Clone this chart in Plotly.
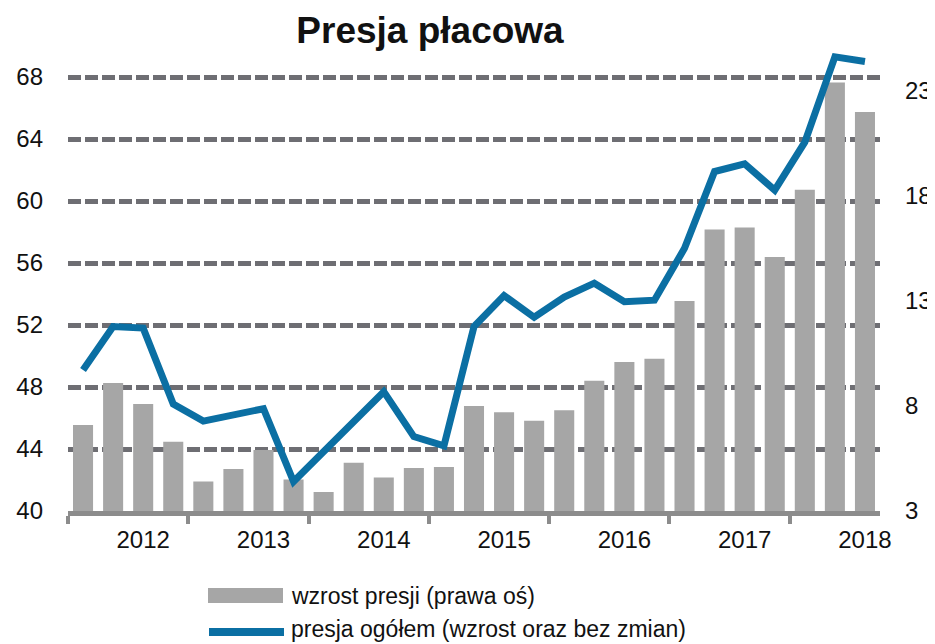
import plotly.graph_objects as go

# ---- data ----
years = ["2012", "2013", "2014", "2015", "2016", "2017", "2018"]
quarters_per_year = 4
# wage pressure growth (right axis), quarterly
growth = [7.1, 9.1, 8.1, 6.3, 4.4, 5.0, 5.9, 4.5, 3.9, 5.3, 4.6, 5.05, 5.1,
          8.0, 7.7, 7.3, 7.8, 9.2, 10.1, 10.25, 13.0, 16.4, 16.5, 15.1, 18.3,
          23.4, 22.0]
# total pressure (left axis), quarterly
total = [49.1, 51.9, 51.8, 46.9, 45.8, 46.2, 46.6, 41.9, 43.85, 45.8, 47.7,
         44.8, 44.2, 51.9, 53.9, 52.5, 53.8, 54.7, 53.5, 53.6, 56.95, 61.9,
         62.4, 60.7, 63.8, 69.3, 69.0]
left_ticks = [40, 44, 48, 52, 56, 60, 64, 68]
right_ticks = [3, 8, 13, 18, 23]
bar_name = "wzrost presji (prawa oś)"
line_name = "presja ogółem (wzrost oraz bez zmian)"
title = "Presja płacowa"

x = list(range(len(growth)))
year_label_pos = [2 + quarters_per_year * i for i in range(len(years))]
year_sep_pos = [-0.5 + quarters_per_year * i for i in range(len(years))]

FONT = "Liberation Sans, Arial, sans-serif"
TXT = "#111111"
OFF = 8  # default page body margin
W, H = 935 - OFF, 644 - OFF
PLOT_BOTTOM = 511  # page px
ML, MR, MT = 68 - OFF, 55, 43 - OFF
MB = H - (PLOT_BOTTOM - OFF)
PW, PH = W - ML - MR, H - MT - MB
PX_LEFT = 15.5   # px per unit, left axis
PX_RIGHT = 21.0  # px per unit, right axis

fig = go.Figure()
fig.add_trace(go.Bar(x=x, y=growth, name=bar_name, marker_color="#a6a6a6",
                     marker_line_width=0, yaxis="y", showlegend=False))
fig.add_trace(go.Scatter(x=x, y=total, name=line_name, mode="lines",
                         line=dict(color="#0b6fa3", width=7),
                         yaxis="y2", showlegend=False))

# screen px (reference image coordinates) -> paper coords
def px2paper_x(px):
    return (px - OFF - ML) / PW

def px2paper_y(py):
    return (H - MB - (py - OFF)) / PH

shapes = [
    dict(type="rect", xref="paper", yref="paper",
         x0=px2paper_x(208), x1=px2paper_x(283),
         y0=px2paper_y(603), y1=px2paper_y(588),
         fillcolor="#a6a6a6", line_width=0),
    dict(type="line", xref="paper", yref="paper",
         x0=px2paper_x(209), x1=px2paper_x(284),
         y0=px2paper_y(632), y1=px2paper_y(632),
         line=dict(color="#0b6fa3", width=8)),
]
annotations = [
    dict(text=bar_name, xref="paper", yref="paper", x=px2paper_x(289),
         y=px2paper_y(596), xanchor="left", yanchor="middle", showarrow=False,
         font=dict(family=FONT, size=23, color=TXT)),
    dict(text=line_name, xref="paper", yref="paper", x=px2paper_x(289),
         y=px2paper_y(629), xanchor="left", yanchor="middle", showarrow=False,
         font=dict(family=FONT, size=23, color=TXT)),
]

fig.update_layout(
    width=W, height=H,
    margin=dict(l=ML, r=MR, t=MT, b=MB, autoexpand=False),
    paper_bgcolor="white", plot_bgcolor="white",
    bargap=1/3,
    title=dict(text=title, x=(430 - OFF) / W, xanchor="center",
               y=1 - (30 - OFF) / H, yanchor="middle",
               font=dict(family=FONT, size=37, color=TXT, weight="bold")),
    xaxis=dict(range=[-0.5, len(growth) - 0.5], tickmode="array",
               tickvals=year_label_pos, ticktext=years, ticks="",
               ticklabelstandoff=3, automargin=False,
               showgrid=False, zeroline=False,
               showline=True, linecolor="#8c8c8c", linewidth=5,
               tickfont=dict(family=FONT, size=24, color=TXT),
               minor=dict(tickmode="array", tickvals=year_sep_pos,
                          ticks="outside", ticklen=8, tickwidth=4,
                          tickcolor="#8c8c8c", showgrid=False)),
    yaxis=dict(side="right", range=[3, 3 + PH / PX_RIGHT], tickmode="array",
               tickvals=right_ticks, showgrid=False, zeroline=False,
               ticks="", ticklabelstandoff=24, automargin=False,
               tickfont=dict(family=FONT, size=24, color=TXT)),
    yaxis2=dict(side="left", overlaying="y", range=[40, 40 + PH / PX_LEFT],
                tickmode="array", tickvals=left_ticks, showgrid=True,
                gridcolor="#6e6e73", gridwidth=4.5, griddash="13px,4px",
                zeroline=False, ticks="", ticklabelstandoff=24,
                automargin=False,
                tickfont=dict(family=FONT, size=24, color=TXT)),
    shapes=shapes,
    annotations=annotations,
)

fig.write_html(
    "out.html",
    post_script="document.documentElement.style.overflow='hidden';"
                "document.body.style.overflow='hidden';",
)
